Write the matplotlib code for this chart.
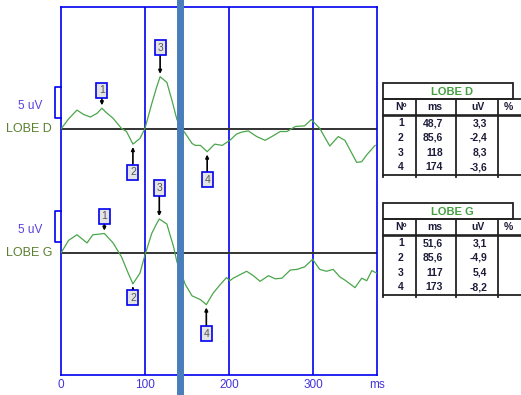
import matplotlib
matplotlib.use("Agg")
import matplotlib.pyplot as plt
import matplotlib.transforms as mtransforms
from matplotlib.patches import Rectangle

plt.rcParams['font.family'] = ['Liberation Sans', 'DejaVu Sans']

# -------------------------------------------------------
# DATOS
# -------------------------------------------------------
channels = ["LOBE D", "LOBE G"]

lobe_d_ms = [0, 9, 19, 27, 35, 43, 48.7, 54, 62, 72, 78, 85.6, 94, 100, 108, 114,
             118, 126, 132, 138, 143, 148, 156, 160, 166, 174, 183, 192, 201, 209,
             215, 223, 233, 243, 251, 261, 269, 279, 290, 298, 308, 320, 330, 338,
             352, 358, 364, 374]
lobe_d_uv = [0, 1.6, 3.0, 2.3, 1.9, 2.5, 3.3, 2.6, 1.7, 0.1, -0.4, -2.4, -1.5, 0.1,
             4.0, 6.7, 8.3, 7.4, 4.6, 1.5, 0.2, -0.7, -2.3, -2.6, -2.6, -3.6, -2.4,
             -2.6, -1.8, -0.8, -0.5, -0.3, -1.2, -1.8, -1.2, -0.4, -0.4, 0.4, 0.5,
             1.5, 0.1, -2.7, -1.2, -1.8, -5.3, -5.2, -4.1, -2.6]

lobe_g_ms = [0, 9, 19, 31, 38, 46, 51.6, 62, 72, 80, 85.6, 94, 100, 108, 114, 117,
             126, 134, 138, 148, 156, 166, 173, 181, 189, 197, 201, 205, 221, 229,
             237, 247, 255, 263, 273, 281, 290, 299.6, 308, 316, 324, 332, 338, 350,
             358, 364, 370, 376]
lobe_g_uv = [0, 2.0, 2.9, 1.6, 2.9, 3.0, 3.1, 1.6, -0.6, -3.2, -4.9, -3.2, -0.3, 3.1,
             4.7, 5.4, 4.6, 1.0, -1.4, -5.0, -6.8, -7.4, -8.2, -6.4, -5.1, -3.9,
             -4.4, -4.0, -2.9, -3.6, -4.5, -3.6, -4.1, -4.0, -2.7, -2.6, -2.2, -1.0,
             -2.6, -2.9, -2.6, -3.8, -4.3, -5.5, -4.0, -4.4, -2.8, -3.2]

# picos marcados (tabla)
peak_num = [1, 2, 3, 4]
peak_d_ms = [48.7, 85.6, 118, 174]
peak_d_uv = [3.3, -2.4, 8.3, -3.6]
peak_g_ms = [51.6, 85.6, 117, 173]
peak_g_uv = [3.1, -4.9, 5.4, -8.2]

scale_uv = 5            # barra de escala
marker_ms = 142         # cursor vertical
x_ticks = [0, 100, 200, 300]

# -------------------------------------------------------
# LAYOUT
# -------------------------------------------------------
W, H = 521, 395
PX_UV = 6.3             # px por uV
X_MAX = 376.2
Y_TOP = (129 - 7) / PX_UV
Y_BOT = -(375 - 129) / PX_UV
G_OFFSET = -(253 - 129) / PX_UV
offsets = [0.0, G_OFFSET]
# desplazamiento vertical (px) de las etiquetas de pico
label_dy_d = [18, -28, 29, -28]
label_dy_g = [17, -14, 31, -29]

BLUE = '#0000f0'
GREEN = '#4aa64a'

fig = plt.figure(figsize=(W / 100, H / 100), dpi=100)

# capa en pixeles para las tablas
ax_px = fig.add_axes([0, 0, 1, 1])
ax_px.set_xlim(0, W)
ax_px.set_ylim(H, 0)
ax_px.axis('off')

ax = fig.add_axes([61 / W, 1 - 375 / H, 316 / W, 368 / H])
ax.set_xlim(0, X_MAX)
ax.set_ylim(Y_BOT, Y_TOP)
for s in ax.spines.values():
    s.set_color(BLUE)
    s.set_linewidth(1.2)
ax.set_yticks([])
ax.set_xticks(x_ticks + [X_MAX])
ax.set_xticklabels([str(t) for t in x_ticks] + ['ms'])
ax.tick_params(axis='x', length=0, pad=3, labelsize=8.5, labelcolor='#4433dd')

for t in x_ticks[1:]:
    ax.axvline(t, color=BLUE, lw=1.2, zorder=1)

series = [(lobe_d_ms, lobe_d_uv, peak_d_ms, peak_d_uv, label_dy_d),
          (lobe_g_ms, lobe_g_uv, peak_g_ms, peak_g_uv, label_dy_g)]

trans_lbl = mtransforms.blended_transform_factory(ax.transAxes, ax.transData)

for name, off, (xs, ys, pm, pu, dys) in zip(channels, offsets, series):
    ax.axhline(off, color='#333333', lw=1.4, zorder=2)
    ax.plot(xs, [v + off for v in ys], color=GREEN, lw=0.9, zorder=3)

    for n, m, u, dy in zip(peak_num, pm, pu, dys):
        ax.annotate(str(n), xy=(m, u + off), xytext=(0, dy),
                    textcoords='offset pixels', ha='center', va='center',
                    fontsize=7.5, color='#555555', zorder=5,
                    bbox=dict(boxstyle='square,pad=0.25', fc='#e4e4e4',
                              ec=BLUE, lw=1.2),
                    arrowprops=dict(arrowstyle='-|>,head_length=0.25,head_width=0.12',
                                    color='black', lw=1.2, shrinkA=0, shrinkB=2))

    # barra de escala 5 uV
    b0 = off + 1.7
    ax.plot([0, -0.019, -0.019, 0], [b0, b0, b0 + scale_uv, b0 + scale_uv],
            color=BLUE, lw=1.2, transform=trans_lbl, clip_on=False)
    ax.text(-0.098, off + 3.6, f"{scale_uv} uV", transform=trans_lbl,
            ha='center', va='center', fontsize=8.5, color='#5b3de0')
    ax.text(-0.102, off, name, transform=trans_lbl, ha='center', va='center',
            fontsize=9, color='#5a8030')

ax.axvline(marker_ms, ymin=-0.06, ymax=1.03, color='#4a7ebb', lw=5,
           clip_on=False, zorder=6)

# -------------------------------------------------------
# TABLAS
# -------------------------------------------------------
col_x = [383, 415.7, 456, 498.3]
row_y = [123, 138, 152.5, 167]
headers = ["Nº", "ms", "uV", "%"]
TXT = '#1c1c3a'
FS = 7.5


def fmt(v):
    return f"{v:g}".replace('.', ',')


def draw_table(top, name, pm, pu):
    k = dict(color='#222222', lw=1.3, clip_on=False)
    ax_px.add_patch(Rectangle((383, top), 130, 15.7, fill=False, ec='#222222', lw=1.3))
    ax_px.text(452, top + 9, name, ha='center', va='center', fontsize=8,
               fontweight='bold', color='#44a040')
    ax_px.plot([383, W], [top + 15.7, top + 15.7], **k)
    ax_px.plot([383, W], [top + 32.3, top + 32.3], color='#222222', lw=1.9)
    ax_px.plot([383, W], [top + 92, top + 92], **k)
    for cx in col_x:
        ax_px.plot([cx, cx], [top + 15.7, top + 94], **k)
    for hx, h in zip([401, 435, 478, 508], headers):
        ax_px.text(hx, top + 24, h, ha='center', va='center', fontsize=FS,
                   fontweight='bold', color=TXT)
    for n, m, u, ry in zip(peak_num, pm, pu, row_y):
        y = ry - 83 + top
        ax_px.text(401, y, str(n), ha='center', va='center', fontsize=FS,
                   fontweight='bold', color=TXT)
        ax_px.text(443, y, fmt(m), ha='right', va='center', fontsize=FS,
                   fontweight='bold', color=TXT)
        ax_px.text(487, y, fmt(u), ha='right', va='center', fontsize=FS,
                   fontweight='bold', color=TXT)


draw_table(83, "LOBE D", peak_d_ms, peak_d_uv)
draw_table(203, "LOBE G", peak_g_ms, peak_g_uv)

fig.savefig("out.png", dpi=100)
